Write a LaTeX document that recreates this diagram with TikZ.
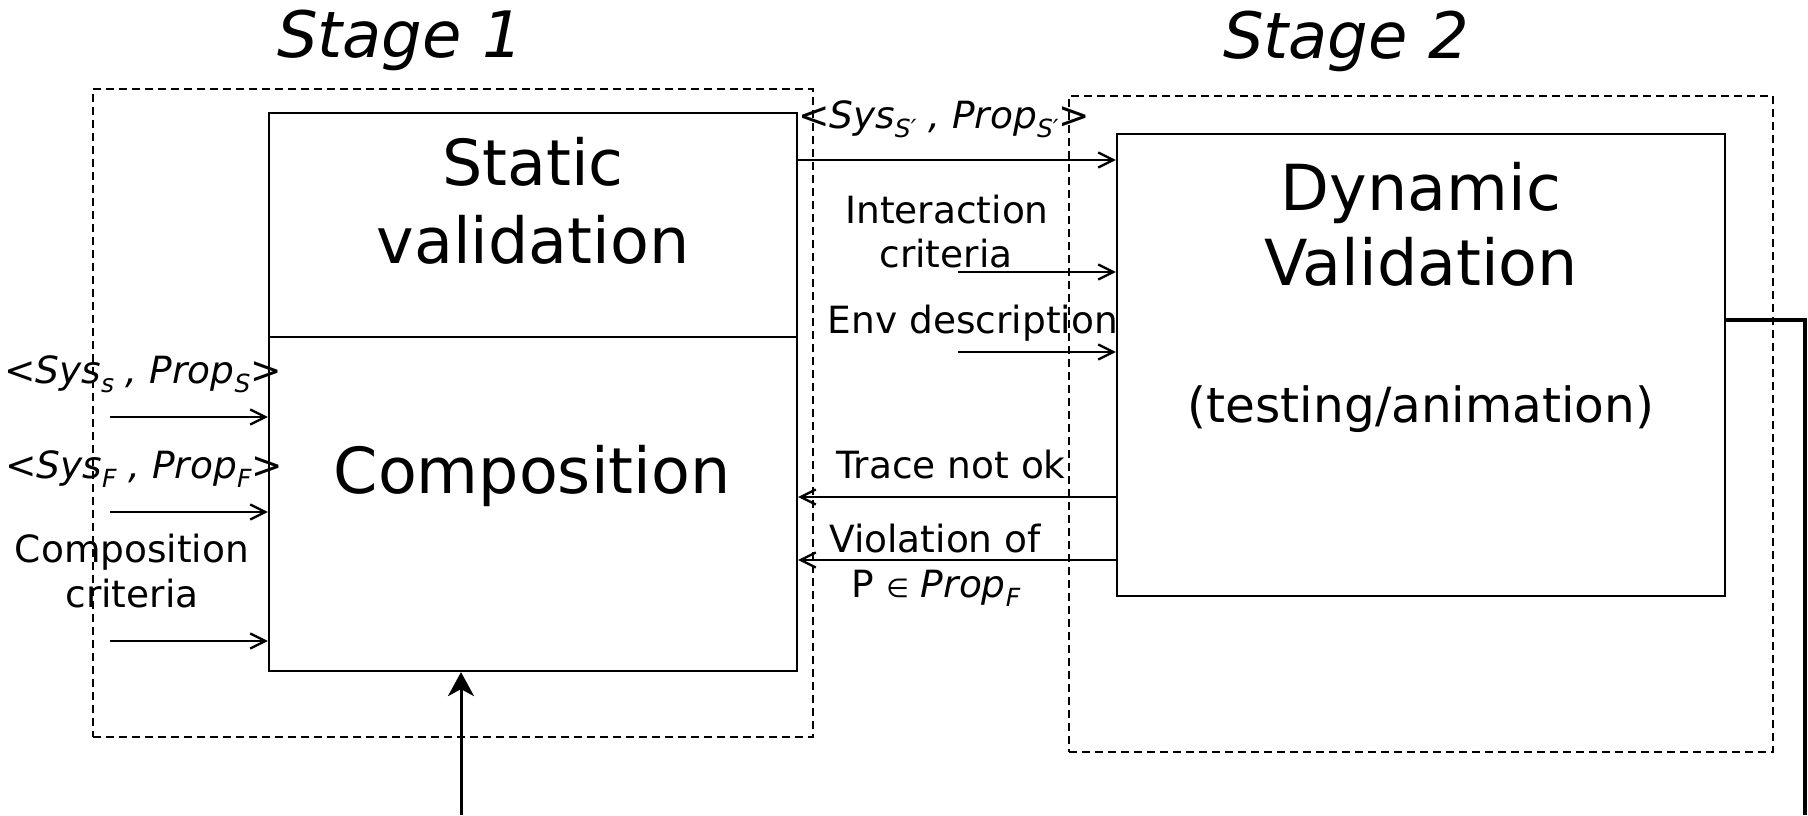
\documentclass[tikz,border=0pt]{standalone}
\usepackage{fontspec}
\setmainfont{DejaVu Sans}
\usetikzlibrary{arrows.meta}
% lowered, smaller subscript used in the system/property pairs
\newcommand{\lowsub}[1]{\raisebox{-9pt}{\fontsize{25}{25}\selectfont #1}}
\begin{document}
\begin{tikzpicture}[x=1pt,y=-1pt,
  stagebox/.style={draw, rectangle, inner sep=0pt, line width=1.8pt, dash pattern=on 8pt off 5pt},
  block/.style={draw, rectangle, inner sep=0pt, line width=2.2pt},
  txt/.style={inner sep=0pt, anchor=base, font=\fontsize{37.5}{45}\selectfont},
  bigtxt/.style={inner sep=0pt, anchor=base, font=\fontsize{63.5}{76}\selectfont},
  midtxt/.style={inner sep=0pt, anchor=base, font=\fontsize{48.5}{58}\selectfont},
  stagetxt/.style={inner sep=0pt, anchor=base, font=\fontsize{64}{77}\selectfont\itshape},
  arr/.style={line width=2.4pt, -{Straight Barb[length=15pt,width=15pt]}},
  bigarr/.style={line width=3pt, -{Stealth[length=24pt,width=26pt,inset=7pt]}},
  thick line/.style={line width=3.2pt}]
\useasboundingbox (0,0) rectangle (1808,815);

% dashed stage frames
\node[stagebox, minimum width=720pt, minimum height=648pt] (stageA) at (453,413) {};
\node[stagebox, minimum width=704pt, minimum height=656pt] (stageB) at (1421,424) {};

% stage titles
\node[stagetxt] (titleA) at (400,57) {Stage 1};
\node[stagetxt] (titleB) at (1346,58) {Stage 2};

% processing blocks
\node[block, minimum width=528pt, minimum height=224pt] (static) at (533,225) {};
\node[block, minimum width=528pt, minimum height=334pt] (comp) at (533,504) {};
\node[block, minimum width=608pt, minimum height=462pt] (dyn) at (1421,365) {};

% block captions
\node[bigtxt] (staticA) at (533,185) {Static};
\node[bigtxt] (staticB) at (533,263) {validation};
\node[bigtxt] (compT) at (532,493) {Composition};
\node[bigtxt] (dynA) at (1421,210) {Dynamic};
\node[bigtxt] (dynB) at (1421,285) {Validation};
\node[midtxt] (dynC) at (1421,422) {(testing/animation)};

% inputs of the composition step
\node[txt] (inS) at (143,383) {\itshape <Sys\lowsub{s} , Prop\lowsub{S}>};
\node[txt] (inF) at (144,478) {\itshape <Sys\lowsub{F} , Prop\lowsub{F}>};
\node[txt] (critA) at (132,562) {Composition};
\node[txt] (critB) at (132,607) {criteria};
\coordinate (srcS) at (110,417);
\coordinate (srcF) at (110,512);
\coordinate (srcC) at (110,641);
\draw[arr] (srcS) -- (srcS -| comp.west);
\draw[arr] (srcF) -- (srcF -| comp.west);
\draw[arr] (srcC) -- (srcC -| comp.west);

% stage 1 -> stage 2
\node[txt] (outS) at (944,128) {\itshape <Sys\lowsub{S′} , Prop\lowsub{S′}>};
\coordinate (rowOut) at (0,160);
\draw[arr] (rowOut -| static.east) -- (rowOut -| dyn.west);

% further inputs of the dynamic step
\node[txt] (interA) at (947,223) {Interaction};
\node[txt] (interB) at (946,267) {criteria};
\node[txt] (env) at (973,333) {Env description};
\coordinate (srcI) at (958,272);
\coordinate (srcE) at (958,352);
\draw[arr] (srcI) -- (srcI -| dyn.west);
\draw[arr] (srcE) -- (srcE -| dyn.west);

% feedback from stage 2
\node[txt] (trace) at (951,478) {Trace not ok};
\node[txt] (violA) at (935,552) {Violation of};
\node[txt] (violB) at (936,597) {P {\fontsize{26}{26}\selectfont ∈} \itshape Prop\lowsub{F}};
\coordinate (rowT) at (0,497);
\coordinate (rowV) at (0,560);
\draw[arr] (rowT -| dyn.west) -- (rowT -| comp.east);
\draw[arr] (rowV -| dyn.west) -- (rowV -| comp.east);

% outer loop
\coordinate (loopIn) at (461,815);
\draw[bigarr] (loopIn) -- (loopIn |- comp.south);
\coordinate (loopOut) at (1805,815);
\coordinate (rowLoop) at (0,320);
\draw[thick line] (rowLoop -| dyn.east) -- (rowLoop -| loopOut) -- (loopOut);
\end{tikzpicture}
\end{document}
